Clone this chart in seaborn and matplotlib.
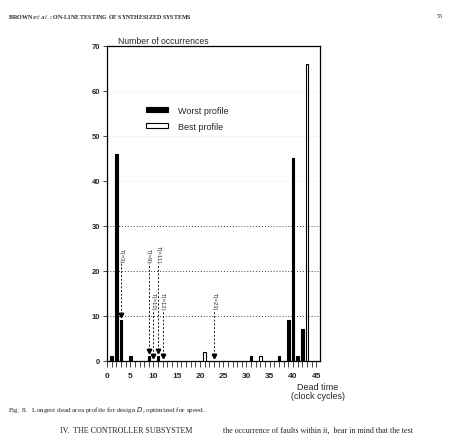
import matplotlib
matplotlib.use("Agg")
import matplotlib.pyplot as plt
import seaborn as sns
import pandas as pd
from matplotlib.patches import Patch
from matplotlib.ticker import MultipleLocator

# ---- data ----
worst_dead_time = [1, 2, 3, 5, 9, 11, 31, 37, 39, 40, 41, 42]
worst_count = [1, 46, 9, 1, 1, 1, 1, 1, 9, 45, 1, 7]
best_dead_time = [21, 33, 43]
best_count = [2, 1, 66]
series_names = ["Worst profile", "Best profile"]

arrow_x = [3, 9, 10, 11, 12, 23]
arrow_tip = [9.6, 1.6, 0.4, 1.6, 0.4, 0.4]
arrow_label_bottom = [21.8, 21.8, 11.3, 21.8, 11.3, 11.3]
arrow_labels = ["T(=3)", "T(=9)", "T(=10)", "T(=11)", "T(=12)", "T(=23)"]

x_ticks = [0, 5, 10, 15, 20, 25, 30, 35, 40, 45]
y_ticks = [0, 10, 20, 30, 40, 50, 60, 70]

df = pd.DataFrame({
    "dead_time": worst_dead_time + best_dead_time,
    "count": worst_count + best_count,
    "profile": [series_names[0]] * len(worst_dead_time) + [series_names[1]] * len(best_dead_time),
})

sns.set_style("white")
plt.rcParams["font.family"] = ["Liberation Sans", "DejaVu Sans"]

W, H = 450, 439
fig = plt.figure(figsize=(W / 100, H / 100), dpi=100)
ax = fig.add_axes([107 / W, 1 - 361.7 / H, 212.5 / W, 315 / H])

sns.barplot(data=df, x="dead_time", y="count", hue="profile", hue_order=series_names,
            palette={series_names[0]: "black", series_names[1]: "white"},
            native_scale=True, dodge=False, width=0.55, edgecolor="black",
            linewidth=0.8, legend=False, ax=ax, zorder=3)

ax.set_xlim(0, 45.7)
ax.set_ylim(0, 70)
ax.set_xlabel("")
ax.set_ylabel("")
ax.set_xticks(x_ticks)
ax.set_yticks(y_ticks)
ax.xaxis.set_minor_locator(MultipleLocator(1))
ax.tick_params(axis="x", which="both", direction="out", length=4, width=0.6,
               bottom=True, pad=4, labelsize=6)
ax.tick_params(axis="y", which="major", direction="out", length=3, width=0.6,
               left=True, pad=2, labelsize=5.5)
for lbl in ax.get_xticklabels() + ax.get_yticklabels():
    lbl.set_fontweight("bold")
for s in ax.spines.values():
    s.set_visible(True)
    s.set_color("black")
    s.set_linewidth(0.9)

# dotted reference lines
for yv in [10, 20, 30]:
    ax.axhline(yv, color="black", linestyle=(0, (1, 2.5)), linewidth=0.6, zorder=1)
for yv in [40, 50, 60]:
    ax.axhline(yv, color="black", linestyle=(0, (1, 3)), linewidth=0.5, alpha=0.2, zorder=1)

# dashed arrows with labels
for xv, tip, lb, txt in zip(arrow_x, arrow_tip, arrow_label_bottom, arrow_labels):
    ax.plot([xv, xv], [tip + 0.8, lb], color="black", linestyle=(0, (2.5, 2)),
            linewidth=0.6, zorder=4)
    ax.plot([xv], [tip + 0.6], marker="v", color="black", markersize=3.2, zorder=5)
    ax.text(xv, lb, txt, rotation=270, ha="center", va="bottom", fontsize=4.2,
            zorder=5)

# legend
handles = [Patch(facecolor="black", edgecolor="black", linewidth=0.8),
           Patch(facecolor="white", edgecolor="black", linewidth=0.8)]
ax.legend(handles, series_names, loc="upper left",
          bbox_to_anchor=((146 - 107) / 212.5, (361.7 - 107) / 315),
          frameon=False, fontsize=6.5, handlelength=2.4, handleheight=0.45,
          handletextpad=1.2, labelspacing=0.75, borderpad=0, borderaxespad=0)

def ftext(x, y, s, **kw):
    fig.text(x / W, 1 - y / H, s, **kw)

ftext(118, 41, "Number of occurrences", fontsize=6.2, ha="left", va="center")
ftext(318, 383, "Dead time\n(clock cycles)", fontsize=6.5, ha="center", va="top",
      linespacing=1.05)

serif = ["Liberation Serif", "DejaVu Serif"]
ftext(8, 17, "BROWN $et\\ al.$: ON-LINE TESTING OF SYNTHESIZED SYSTEMS", fontsize=4.3,
      ha="left", va="center", family=serif, fontweight="bold")
ftext(440, 17, "55", fontsize=4.3, ha="center", va="center", family=serif)
ftext(8, 410, "Fig. 8.   Longest dead area profile for design $D$, optimized for speed.",
      fontsize=5.1, ha="left", va="center", family=serif)
ftext(60, 431, "IV.  THE CONTROLLER SUBSYSTEM", fontsize=5.8, ha="left", va="center",
      family=serif)
ftext(223, 431, "the occurrence of faults within it,  bear in mind that the test",
      fontsize=5.8, ha="left", va="center", family=serif)

fig.savefig("out.png", dpi=100, facecolor="white")
